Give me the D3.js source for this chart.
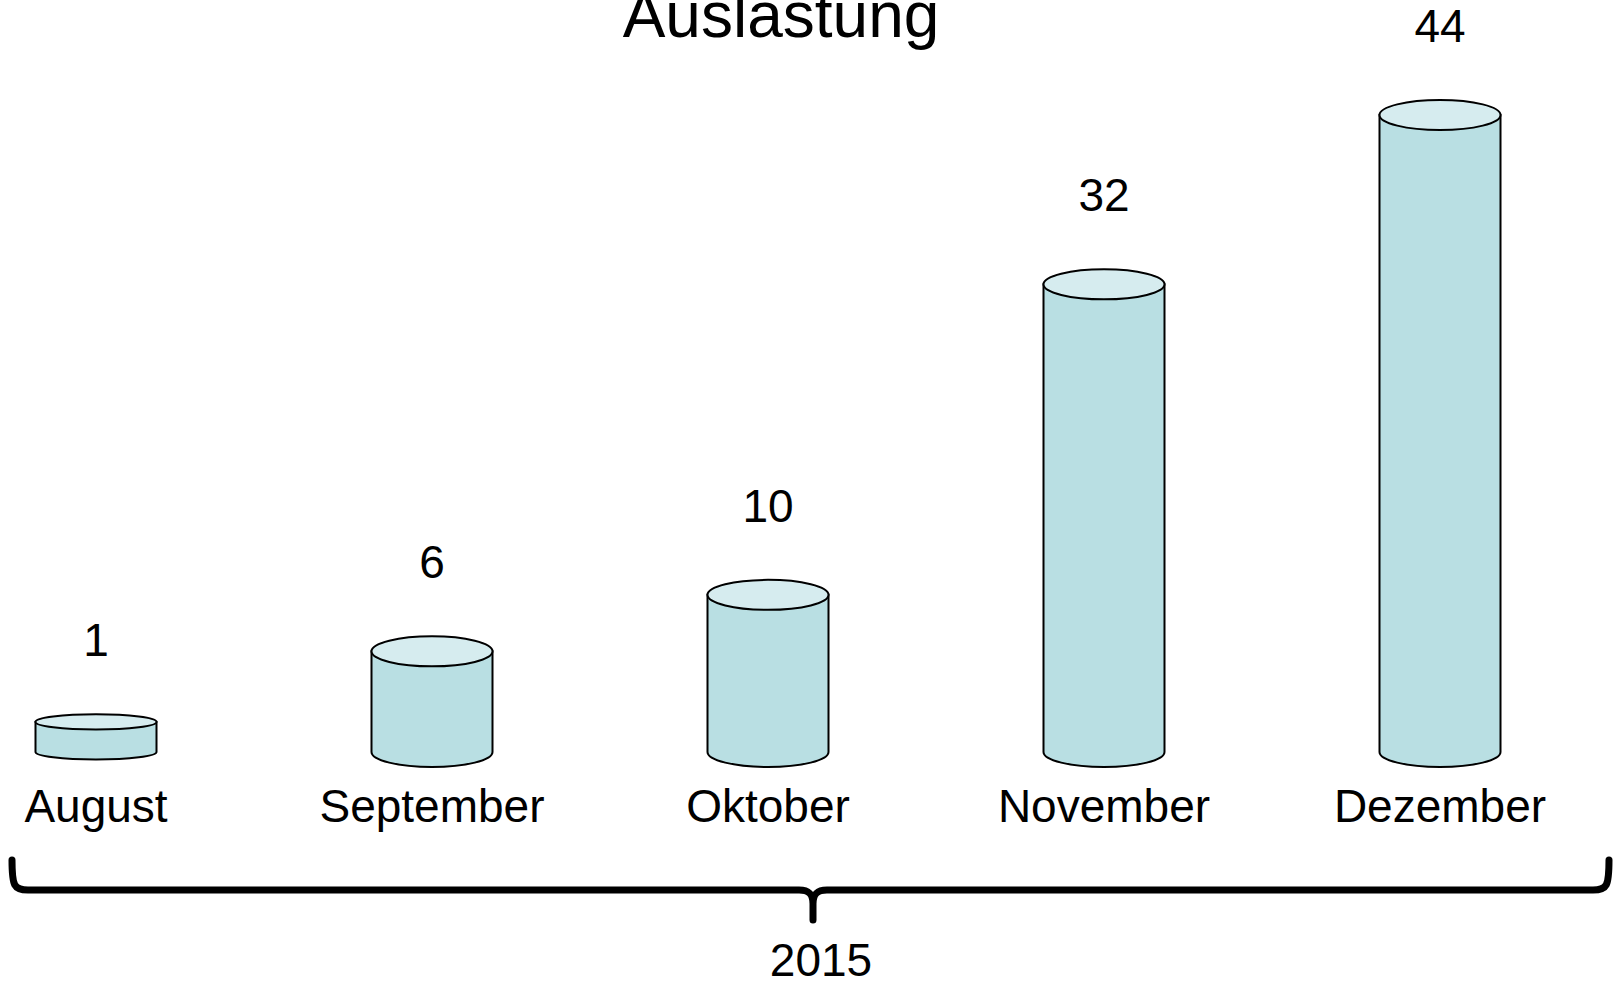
<!DOCTYPE html>
<html>
<head>
<meta charset="utf-8">
<script src="https://cdn.jsdelivr.net/npm/d3@7"></script>
<style>
  body { margin: 0; background: #fff; }
  svg { display: block; }
  text { font-family: "Liberation Sans", Arial, sans-serif; fill: #000; }
</style>
</head>
<body>
<div id="chart"></div>
<script>
const width = 1616;
const height = 984;

// Data
const months = ["August", "September", "Oktober", "November", "Dezember"];
const values = [1, 6, 10, 32, 44];
const title = "Auslastung";
const yearLabel = "2015";

const svg = d3.select("#chart")
    .append("svg")
    .attr("width", width)
    .attr("height", height);

// Scales
const x = d3.scalePoint()
    .domain(months)
    .range([96, 1440]);

const y = d3.scaleLinear()
    .domain([0, 44])
    .range([736, 115]);

const base = 752;      // floor line of the cylinders
const cylW = 121;

const data = months.map((m, i) => ({ month: m, value: values[i] }));

// Title (partly cut off at the top, as in the original)
svg.append("text")
    .attr("x", 781)
    .attr("y", 37)
    .attr("text-anchor", "middle")
    .style("font-size", "64px")
    .text(title);

// Cylinders
const cyl = svg.selectAll("g.cyl")
    .data(data)
    .enter()
    .append("g")
    .attr("class", "cyl");

cyl.each(function(d) {
    const g = d3.select(this);
    const cx = x(d.month);
    const top = y(d.value);
    const rx = cylW / 2;
    const ry = Math.min(15, (base - top) * 0.25);

    // side body with rounded bottom
    g.append("path")
        .attr("d", `M${cx - rx},${top} L${cx - rx},${base}
                    A${rx},${ry} 0 0 0 ${cx + rx},${base}
                    L${cx + rx},${top} Z`)
        .attr("fill", "#b9dfe3")
        .attr("stroke", "#000")
        .attr("stroke-width", 2);

    // top face
    g.append("ellipse")
        .attr("cx", cx)
        .attr("cy", top)
        .attr("rx", rx)
        .attr("ry", ry)
        .attr("fill", "#d6ecef")
        .attr("stroke", "#000")
        .attr("stroke-width", 2);

    // value label
    g.append("text")
        .attr("x", cx)
        .attr("y", top - ry - 58)
        .attr("text-anchor", "middle")
        .style("font-size", "46px")
        .text(d.value);
});

// Category labels
svg.selectAll("text.month")
    .data(months)
    .enter()
    .append("text")
    .attr("class", "month")
    .attr("x", d => x(d))
    .attr("y", 822)
    .attr("text-anchor", "middle")
    .style("font-size", "46px")
    .text(d => d);

// Curly brace under the categories
const bl = 12, br = 1609, bm = 813, by = 890, btop = 860, btip = 920;
svg.append("path")
    .attr("d", `M${bl},${btop} C${bl},${by - 4} ${bl + 2},${by} ${bl + 16},${by}
                L${bm - 14},${by} C${bm - 4},${by} ${bm},${by + 4} ${bm},${by + 14}
                L${bm},${btip}
                M${bm},${by + 14} C${bm},${by + 4} ${bm + 4},${by} ${bm + 14},${by}
                L${br - 16},${by} C${br - 2},${by} ${br},${by - 4} ${br},${btop}`)
    .attr("fill", "none")
    .attr("stroke", "#000")
    .attr("stroke-width", 7)
    .attr("stroke-linecap", "round");

svg.append("text")
    .attr("x", 821)
    .attr("y", 976)
    .attr("text-anchor", "middle")
    .style("font-size", "46px")
    .text(yearLabel);
</script>
</body>
</html>
